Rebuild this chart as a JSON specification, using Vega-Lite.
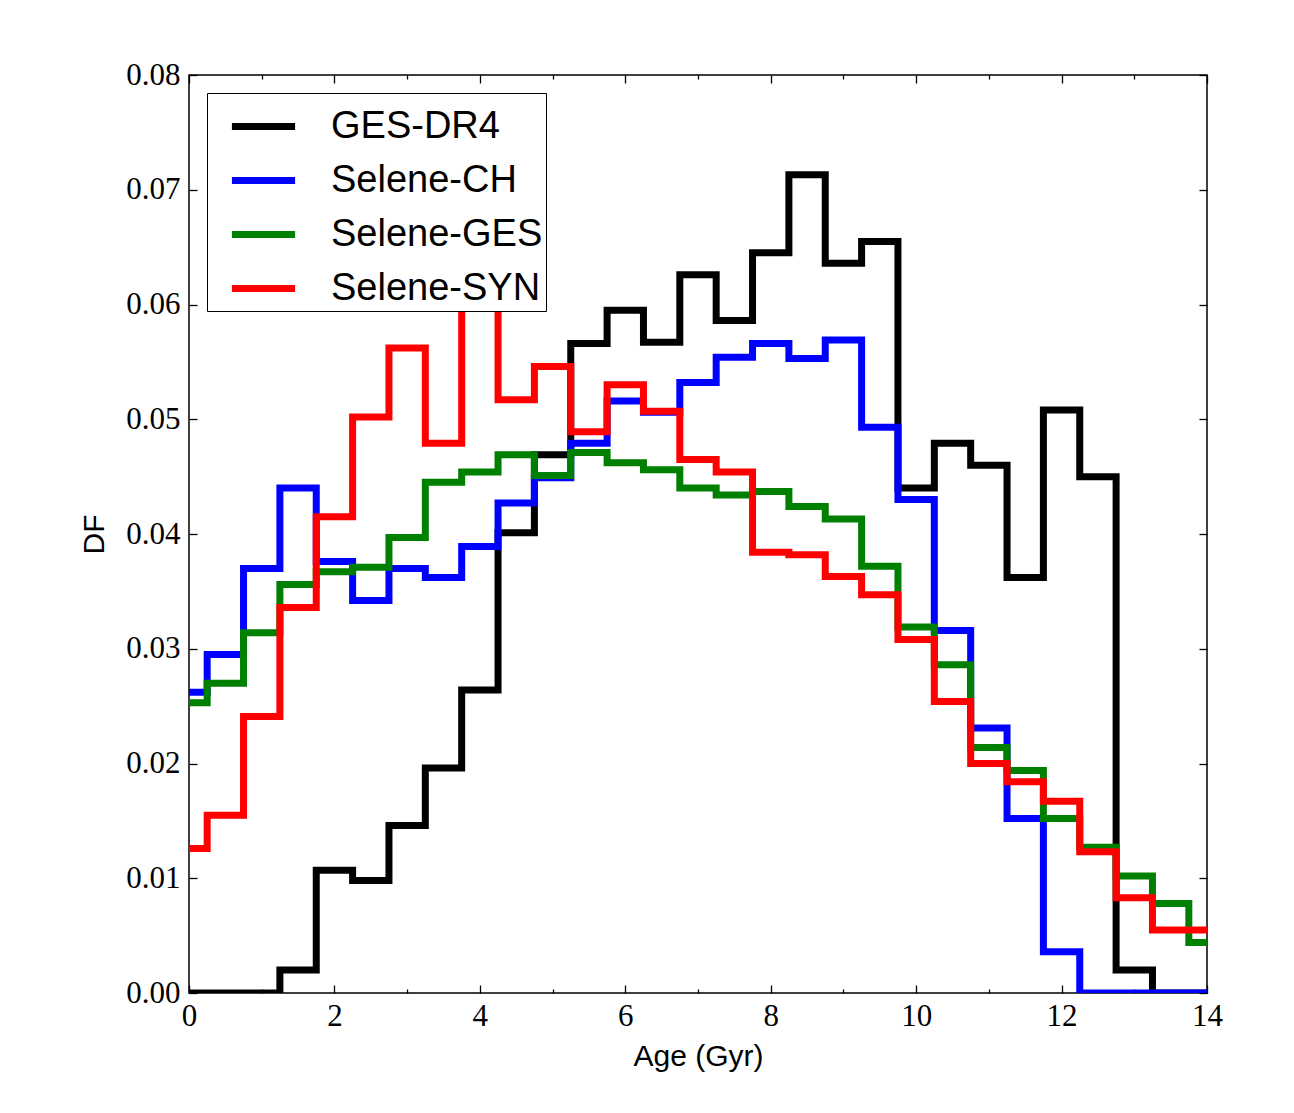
{
  "$schema": "https://vega.github.io/schema/vega-lite/v6.json",
  "width": 1018,
  "height": 918,
  "autosize": {"type": "none"},
  "padding": {"left": 189, "top": 75, "right": 87, "bottom": 120},
  "background": "white",
  "config": {
    "view": {"stroke": "black", "strokeWidth": 1.5},
    "axis": {"domain": false, "grid": false, "tickColor": "black", "tickWidth": 1.3, "labelColor": "black", "titleColor": "black", "labelFont": "Liberation Serif", "labelFontSize": 31, "labelFlush": false, "titleFont": "Liberation Sans", "titleFontSize": 30, "titleFontWeight": "normal"}
  },
  "data": {"values": [
    {"age": 0, "series": "GES-DR4", "df": 0},
    {"age": 0.5, "series": "GES-DR4", "df": 0},
    {"age": 1.0, "series": "GES-DR4", "df": 0},
    {"age": 1.5, "series": "GES-DR4", "df": 0.0020},
    {"age": 2.0, "series": "GES-DR4", "df": 0.0107},
    {"age": 2.5, "series": "GES-DR4", "df": 0.0098},
    {"age": 3.0, "series": "GES-DR4", "df": 0.0146},
    {"age": 3.5, "series": "GES-DR4", "df": 0.0196},
    {"age": 4.0, "series": "GES-DR4", "df": 0.0264},
    {"age": 4.5, "series": "GES-DR4", "df": 0.0401},
    {"age": 5.0, "series": "GES-DR4", "df": 0.0469},
    {"age": 5.5, "series": "GES-DR4", "df": 0.0566},
    {"age": 6.0, "series": "GES-DR4", "df": 0.0595},
    {"age": 6.5, "series": "GES-DR4", "df": 0.0567},
    {"age": 7.0, "series": "GES-DR4", "df": 0.0626},
    {"age": 7.5, "series": "GES-DR4", "df": 0.0586},
    {"age": 8.0, "series": "GES-DR4", "df": 0.0645},
    {"age": 8.5, "series": "GES-DR4", "df": 0.0713},
    {"age": 9.0, "series": "GES-DR4", "df": 0.0636},
    {"age": 9.5, "series": "GES-DR4", "df": 0.0655},
    {"age": 10.0, "series": "GES-DR4", "df": 0.0440},
    {"age": 10.5, "series": "GES-DR4", "df": 0.0479},
    {"age": 11.0, "series": "GES-DR4", "df": 0.0460},
    {"age": 11.5, "series": "GES-DR4", "df": 0.0362},
    {"age": 12.0, "series": "GES-DR4", "df": 0.0508},
    {"age": 12.5, "series": "GES-DR4", "df": 0.0450},
    {"age": 13.0, "series": "GES-DR4", "df": 0.0020},
    {"age": 13.5, "series": "GES-DR4", "df": 0},
    {"age": 14.0, "series": "GES-DR4", "df": 0},
    {"age": 0, "series": "Selene-CH", "df": 0.0262},
    {"age": 0.5, "series": "Selene-CH", "df": 0.0295},
    {"age": 1.0, "series": "Selene-CH", "df": 0.0370},
    {"age": 1.5, "series": "Selene-CH", "df": 0.0440},
    {"age": 2.0, "series": "Selene-CH", "df": 0.0376},
    {"age": 2.5, "series": "Selene-CH", "df": 0.0342},
    {"age": 3.0, "series": "Selene-CH", "df": 0.0370},
    {"age": 3.5, "series": "Selene-CH", "df": 0.0362},
    {"age": 4.0, "series": "Selene-CH", "df": 0.0389},
    {"age": 4.5, "series": "Selene-CH", "df": 0.0427},
    {"age": 5.0, "series": "Selene-CH", "df": 0.0449},
    {"age": 5.5, "series": "Selene-CH", "df": 0.0479},
    {"age": 6.0, "series": "Selene-CH", "df": 0.0516},
    {"age": 6.5, "series": "Selene-CH", "df": 0.0506},
    {"age": 7.0, "series": "Selene-CH", "df": 0.0532},
    {"age": 7.5, "series": "Selene-CH", "df": 0.0554},
    {"age": 8.0, "series": "Selene-CH", "df": 0.0566},
    {"age": 8.5, "series": "Selene-CH", "df": 0.0553},
    {"age": 9.0, "series": "Selene-CH", "df": 0.0569},
    {"age": 9.5, "series": "Selene-CH", "df": 0.0493},
    {"age": 10.0, "series": "Selene-CH", "df": 0.0430},
    {"age": 10.5, "series": "Selene-CH", "df": 0.0316},
    {"age": 11.0, "series": "Selene-CH", "df": 0.0231},
    {"age": 11.5, "series": "Selene-CH", "df": 0.0152},
    {"age": 12.0, "series": "Selene-CH", "df": 0.0036},
    {"age": 12.5, "series": "Selene-CH", "df": 0},
    {"age": 13.0, "series": "Selene-CH", "df": 0},
    {"age": 13.5, "series": "Selene-CH", "df": 0},
    {"age": 14.0, "series": "Selene-CH", "df": 0},
    {"age": 0, "series": "Selene-GES", "df": 0.0253},
    {"age": 0.5, "series": "Selene-GES", "df": 0.0270},
    {"age": 1.0, "series": "Selene-GES", "df": 0.0314},
    {"age": 1.5, "series": "Selene-GES", "df": 0.0356},
    {"age": 2.0, "series": "Selene-GES", "df": 0.0367},
    {"age": 2.5, "series": "Selene-GES", "df": 0.0371},
    {"age": 3.0, "series": "Selene-GES", "df": 0.0397},
    {"age": 3.5, "series": "Selene-GES", "df": 0.0445},
    {"age": 4.0, "series": "Selene-GES", "df": 0.0454},
    {"age": 4.5, "series": "Selene-GES", "df": 0.0469},
    {"age": 5.0, "series": "Selene-GES", "df": 0.0451},
    {"age": 5.5, "series": "Selene-GES", "df": 0.0471},
    {"age": 6.0, "series": "Selene-GES", "df": 0.0462},
    {"age": 6.5, "series": "Selene-GES", "df": 0.0456},
    {"age": 7.0, "series": "Selene-GES", "df": 0.0440},
    {"age": 7.5, "series": "Selene-GES", "df": 0.0434},
    {"age": 8.0, "series": "Selene-GES", "df": 0.0437},
    {"age": 8.5, "series": "Selene-GES", "df": 0.0424},
    {"age": 9.0, "series": "Selene-GES", "df": 0.0413},
    {"age": 9.5, "series": "Selene-GES", "df": 0.0372},
    {"age": 10.0, "series": "Selene-GES", "df": 0.0319},
    {"age": 10.5, "series": "Selene-GES", "df": 0.0286},
    {"age": 11.0, "series": "Selene-GES", "df": 0.0214},
    {"age": 11.5, "series": "Selene-GES", "df": 0.0194},
    {"age": 12.0, "series": "Selene-GES", "df": 0.0152},
    {"age": 12.5, "series": "Selene-GES", "df": 0.0127},
    {"age": 13.0, "series": "Selene-GES", "df": 0.0102},
    {"age": 13.5, "series": "Selene-GES", "df": 0.0078},
    {"age": 14.0, "series": "Selene-GES", "df": 0.0044},
    {"age": 0, "series": "Selene-SYN", "df": 0.0126},
    {"age": 0.5, "series": "Selene-SYN", "df": 0.0155},
    {"age": 1.0, "series": "Selene-SYN", "df": 0.0241},
    {"age": 1.5, "series": "Selene-SYN", "df": 0.0336},
    {"age": 2.0, "series": "Selene-SYN", "df": 0.0415},
    {"age": 2.5, "series": "Selene-SYN", "df": 0.0502},
    {"age": 3.0, "series": "Selene-SYN", "df": 0.0562},
    {"age": 3.5, "series": "Selene-SYN", "df": 0.0479},
    {"age": 4.0, "series": "Selene-SYN", "df": 0.0625},
    {"age": 4.5, "series": "Selene-SYN", "df": 0.0517},
    {"age": 5.0, "series": "Selene-SYN", "df": 0.0546},
    {"age": 5.5, "series": "Selene-SYN", "df": 0.0489},
    {"age": 6.0, "series": "Selene-SYN", "df": 0.0530},
    {"age": 6.5, "series": "Selene-SYN", "df": 0.0507},
    {"age": 7.0, "series": "Selene-SYN", "df": 0.0465},
    {"age": 7.5, "series": "Selene-SYN", "df": 0.0454},
    {"age": 8.0, "series": "Selene-SYN", "df": 0.0384},
    {"age": 8.5, "series": "Selene-SYN", "df": 0.0382},
    {"age": 9.0, "series": "Selene-SYN", "df": 0.0363},
    {"age": 9.5, "series": "Selene-SYN", "df": 0.0347},
    {"age": 10.0, "series": "Selene-SYN", "df": 0.0308},
    {"age": 10.5, "series": "Selene-SYN", "df": 0.0254},
    {"age": 11.0, "series": "Selene-SYN", "df": 0.0200},
    {"age": 11.5, "series": "Selene-SYN", "df": 0.0184},
    {"age": 12.0, "series": "Selene-SYN", "df": 0.0167},
    {"age": 12.5, "series": "Selene-SYN", "df": 0.0123},
    {"age": 13.0, "series": "Selene-SYN", "df": 0.0083},
    {"age": 13.5, "series": "Selene-SYN", "df": 0.0055},
    {"age": 14.0, "series": "Selene-SYN", "df": 0.0055}
  ]},
  "layer": [
    {
      "mark": {"type": "line", "opacity": 0},
      "encoding": {
        "x": {"field": "age", "type": "quantitative", "scale": {"domain": [0, 14], "nice": false, "zero": false},
              "axis": {"orient": "bottom", "values": [1, 3, 5, 7, 9, 11, 13], "tickSize": -4, "labels": false, "title": null}},
        "y": {"field": "df", "type": "quantitative", "scale": {"domain": [0, 0.08], "nice": false},
              "axis": {"orient": "right", "values": [0, 0.01, 0.02, 0.03, 0.04, 0.05, 0.06, 0.07, 0.08], "tickSize": -8, "labels": false, "title": null}},
        "detail": {"field": "series"}
      }
    },
    {
      "mark": {"type": "line", "opacity": 0},
      "encoding": {
        "x": {"field": "age", "type": "quantitative", "scale": {"domain": [0, 14], "nice": false, "zero": false},
              "axis": {"orient": "top", "values": [0, 2, 4, 6, 8, 10, 12, 14], "tickSize": -8, "labels": false, "title": null}},
        "y": {"field": "df", "type": "quantitative", "axis": null},
        "detail": {"field": "series"}
      }
    },
    {
      "mark": {"type": "line", "opacity": 0},
      "encoding": {
        "x": {"field": "age", "type": "quantitative", "scale": {"domain": [0, 14], "nice": false, "zero": false},
              "axis": {"orient": "top", "values": [1, 3, 5, 7, 9, 11, 13], "tickSize": -4, "labels": false, "title": null}},
        "y": {"field": "df", "type": "quantitative", "axis": null},
        "detail": {"field": "series"}
      }
    },
    {
      "mark": {"type": "line", "interpolate": "step", "strokeWidth": 7, "clip": true},
      "encoding": {
        "x": {"field": "age", "type": "quantitative", "scale": {"domain": [0, 14], "nice": false, "zero": false},
              "axis": {"orient": "bottom", "values": [0, 2, 4, 6, 8, 10, 12, 14], "tickSize": -8, "labelPadding": 16, "title": "Age (Gyr)", "titlePadding": 10}},
        "y": {"field": "df", "type": "quantitative", "scale": {"domain": [0, 0.08], "nice": false},
              "axis": {"orient": "left", "values": [0, 0.01, 0.02, 0.03, 0.04, 0.05, 0.06, 0.07, 0.08], "format": ".2f", "tickSize": -8, "labelPadding": 17, "title": "DF", "titlePadding": 16}},
        "color": {"field": "series", "type": "nominal",
                  "scale": {"domain": ["GES-DR4", "Selene-CH", "Selene-GES", "Selene-SYN"], "range": ["#000000", "#0000ff", "#008000", "#ff0000"]},
                  "legend": {"orient": "top-left", "offset": 18, "title": null, "symbolType": "M-1.17,0H1.17", "symbolStrokeWidth": 7, "symbolSize": 2916,
                             "symbolOffset": 23, "labelFont": "Liberation Sans", "labelFontSize": 38, "labelColor": "black", "labelOffset": 37, "labelLimit": 400,
                             "strokeColor": "black", "fillColor": "white", "padding": 3, "rowPadding": 4, "cornerRadius": 0}}
      }
    }
  ],
  "resolve": {"axis": {"x": "independent", "y": "independent"}}
}
